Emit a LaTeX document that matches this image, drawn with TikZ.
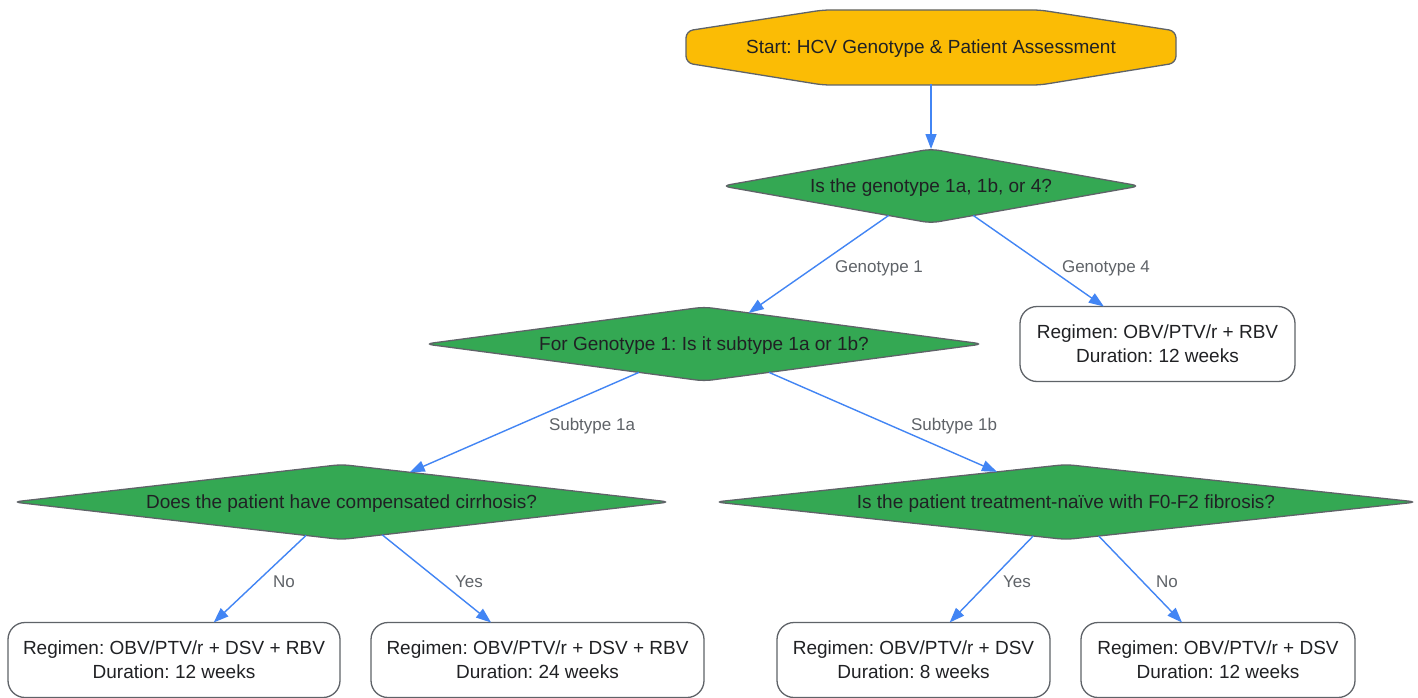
\documentclass[tikz,border=0pt]{standalone}
\usepackage{fontspec}
\setmainfont{Liberation Sans}
\usepackage{tikz}
\usetikzlibrary{positioning, arrows.meta, shapes.geometric}

\definecolor{startfill}{HTML}{FBBC05}
\definecolor{decfill}{HTML}{34A853}
\definecolor{edgeblue}{HTML}{4285F4}
\definecolor{bordergray}{HTML}{5F6368}
\definecolor{textdark}{HTML}{202124}
\definecolor{labelgray}{HTML}{5F6368}

\frenchspacing

\begin{document}
\begin{tikzpicture}[x=1pt, y=-1pt,
  startbox/.style={draw=bordergray, line width=1.3pt, fill=startfill, rounded corners=7pt},
  decision/.style={diamond, aspect=8, draw=bordergray, line width=1.3pt, fill=decfill,
    rounded corners=8pt, inner sep=0pt, outer sep=0pt, text=textdark, text depth=0pt,
    font=\fontsize{19}{23}\selectfont},
  regimen/.style={rectangle, draw=bordergray, line width=1.3pt, fill=white,
    rounded corners=17pt, minimum height=75pt, inner sep=0pt, outer sep=0pt,
    align=center, text=textdark, text depth=0pt, font=\fontsize{19}{24}\selectfont},
  flow/.style={draw=edgeblue, line width=1.4pt, -{Triangle[length=15pt,width=11pt]}},
  elabel/.style={text=labelgray, inner sep=0pt, text depth=0pt,
    font=\fontsize{17}{20}\selectfont}
]
\useasboundingbox[fill=white] (0,0) rectangle (1418,698);

% start
\draw[startbox] (686,47) -- (686,31) -- (823,10) -- (1040,10) -- (1176,31)
  -- (1176,63) -- (1040,85) -- (823,85) -- (686,63) -- cycle;
\node[minimum width=491pt, minimum height=75pt, inner sep=0pt, outer sep=0pt,
  text=textdark, text depth=0pt, font=\fontsize{19}{23}\selectfont] (start) at (931,47)
  {Start: HCV Genotype \& Patient Assessment};

% decisions
\node[decision, minimum width=418pt, minimum height=74pt] (geno) at (931,186)
  {Is the genotype 1a, 1b, or 4?};
\node[decision, minimum width=558pt, minimum height=74pt] (sub) at (704,344)
  {For Genotype 1: Is it subtype 1a or 1b?};
\node[decision, minimum width=657pt, minimum height=75pt] (cirr) at (341.5,502)
  {Does the patient have compensated cirrhosis?};
\node[decision, minimum width=702pt, minimum height=75pt] (naive) at (1066,502)
  {Is the patient treatment-naïve with F0-F2 fibrosis?};

% regimens
\node[regimen, minimum width=275pt] (regG4) at (1157.5,344)
  {Regimen: OBV/PTV/r + RBV\\Duration: 12 weeks};
\node[regimen, minimum width=332pt] (regNo) at (174,660)
  {Regimen: OBV/PTV/r + DSV + RBV\\Duration: 12 weeks};
\node[regimen, minimum width=333pt] (regYes) at (537.5,660)
  {Regimen: OBV/PTV/r + DSV + RBV\\Duration: 24 weeks};
\node[regimen, minimum width=273pt] (regNaive) at (913.5,660)
  {Regimen: OBV/PTV/r + DSV\\Duration: 8 weeks};
\node[regimen, minimum width=274pt] (regExp) at (1218,660)
  {Regimen: OBV/PTV/r + DSV\\Duration: 12 weeks};

% edges
\draw[flow] (start) -- (geno);
\draw[flow] (geno) -- (sub);
\draw[flow] (geno) -- (regG4);
\draw[flow] (sub) -- (cirr);
\draw[flow] (sub) -- (naive);
\draw[flow] (cirr) -- (regNo);
\draw[flow] (cirr) -- (regYes);
\draw[flow] (naive) -- (regNaive);
\draw[flow] (naive) -- (regExp);

% edge labels
\node[elabel] (lGeno1) at (879,267) {Genotype 1};
\node[elabel] (lGeno4) at (1106,267) {Genotype 4};
\node[elabel] (lSub1a) at (592,424) {Subtype 1a};
\node[elabel] (lSub1b) at (954,424) {Subtype 1b};
\node[elabel] (lCirrNo) at (284,582) {No};
\node[elabel] (lCirrYes) at (469,582) {Yes};
\node[elabel] (lNaiveYes) at (1017,582) {Yes};
\node[elabel] (lNaiveNo) at (1167,582) {No};
\end{tikzpicture}
\end{document}
